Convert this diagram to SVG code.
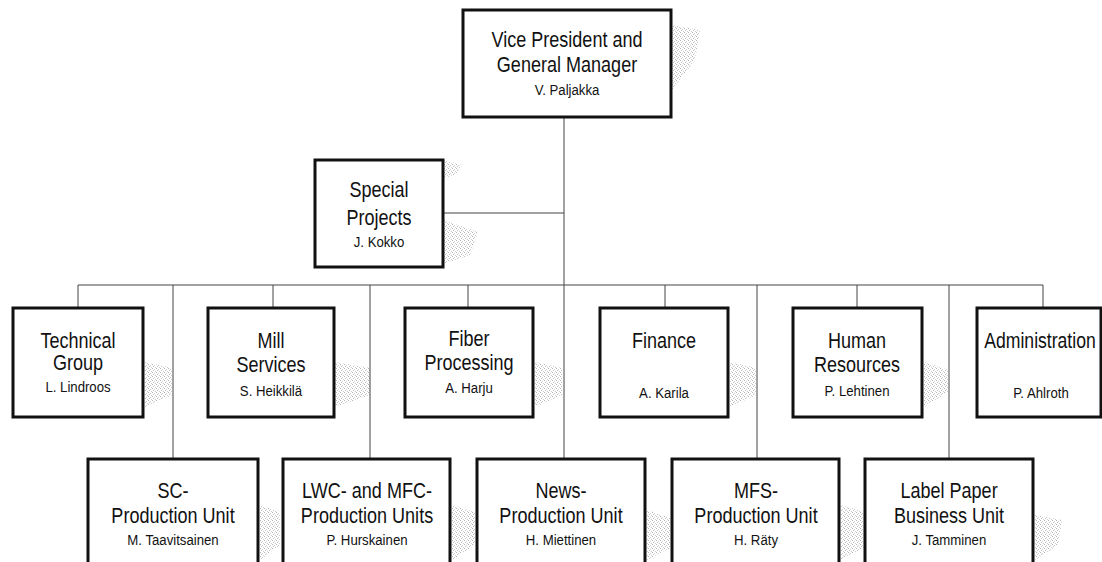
<svg xmlns="http://www.w3.org/2000/svg" width="1102" height="562" viewBox="0 0 1102 562">
<defs>
<pattern id="dither" width="4" height="4" patternUnits="userSpaceOnUse">
<rect x="0" y="0" width="1" height="1" fill="#999"/>
<rect x="2" y="1" width="1" height="1" fill="#bbb"/>
<rect x="1" y="2" width="1" height="1" fill="#aaa"/>
<rect x="3" y="3" width="1" height="1" fill="#bbb"/>
</pattern>
<style>
.box{fill:#fff;stroke:#111;stroke-width:3}
.t{font-family:"Liberation Sans",Arial,sans-serif;font-size:22px;fill:#111;text-anchor:middle}
.n{font-family:"Liberation Sans",Arial,sans-serif;font-size:15px;fill:#111;text-anchor:middle}
.c{stroke:#444;stroke-width:1;fill:none}
.sh{fill:url(#dither);opacity:0.75}
</style>
</defs>
<rect width="1102" height="562" fill="#fff"/>
<g id="shadows">
<polygon class="sh" points="672,25 700,30 695,60 672,90"/>
<polygon class="sh" points="443,220 478,232 470,255 443,264"/>
<polygon class="sh" points="443,160 462,165 455,175 443,178"/>
<polygon class="sh" points="145,362 172,368 172,395 145,407"/>
<polygon class="sh" points="335,362 370,368 370,395 335,407"/>
<polygon class="sh" points="535,362 562,368 562,395 535,407"/>
<polygon class="sh" points="730,362 756,368 756,395 730,407"/>
<polygon class="sh" points="924,362 948,370 948,392 924,407"/>
<polygon class="sh" points="260,505 280,512 280,545 260,560"/>
<polygon class="sh" points="452,505 475,512 475,545 452,560"/>
<polygon class="sh" points="647,510 670,518 670,548 647,560"/>
<polygon class="sh" points="841,505 864,512 864,548 841,560"/>
<polygon class="sh" points="1035,515 1062,520 1058,545 1035,560"/>
</g>
<g id="connectors">
<line class="c" x1="564" y1="118" x2="564" y2="459"/>
<line class="c" x1="443" y1="213" x2="564" y2="213"/>
<line class="c" x1="78" y1="285" x2="1043" y2="285"/>
<line class="c" x1="78" y1="285" x2="78" y2="308"/>
<line class="c" x1="273" y1="285" x2="273" y2="308"/>
<line class="c" x1="468" y1="285" x2="468" y2="308"/>
<line class="c" x1="665" y1="285" x2="665" y2="308"/>
<line class="c" x1="857" y1="285" x2="857" y2="308"/>
<line class="c" x1="1043" y1="285" x2="1043" y2="308"/>
<line class="c" x1="173" y1="285" x2="173" y2="459"/>
<line class="c" x1="370" y1="285" x2="370" y2="459"/>
<line class="c" x1="757" y1="285" x2="757" y2="459"/>
<line class="c" x1="949" y1="285" x2="949" y2="459"/>
</g>
<g id="vp">
<rect class="box" x="463" y="10" width="208" height="107"/>
<text class="t" transform="translate(567 47) scale(0.82 1)">Vice President and</text>
<text class="t" transform="translate(567 72) scale(0.82 1)">General Manager</text>
<text class="n" transform="translate(567 95) scale(0.88 1)">V. Paljakka</text>
</g>
<g id="special">
<rect class="box" x="315" y="160" width="128" height="107"/>
<text class="t" transform="translate(379 197) scale(0.82 1)">Special</text>
<text class="t" transform="translate(379 225) scale(0.82 1)">Projects</text>
<text class="n" transform="translate(379 247) scale(0.88 1)">J. Kokko</text>
</g>
<g id="technical">
<rect class="box" x="13" y="308" width="130" height="109"/>
<text class="t" transform="translate(78 348) scale(0.82 1)">Technical</text>
<text class="t" transform="translate(78 370) scale(0.82 1)">Group</text>
<text class="n" transform="translate(78 392) scale(0.88 1)">L. Lindroos</text>
</g>
<g id="mill">
<rect class="box" x="208" y="308" width="126" height="109"/>
<text class="t" transform="translate(271 348) scale(0.82 1)">Mill</text>
<text class="t" transform="translate(271 372) scale(0.82 1)">Services</text>
<text class="n" transform="translate(271 396) scale(0.88 1)">S. Heikkilä</text>
</g>
<g id="fiber">
<rect class="box" x="405" y="308" width="128" height="109"/>
<text class="t" transform="translate(469 346) scale(0.82 1)">Fiber</text>
<text class="t" transform="translate(469 370) scale(0.82 1)">Processing</text>
<text class="n" transform="translate(469 393) scale(0.88 1)">A. Harju</text>
</g>
<g id="finance">
<rect class="box" x="600" y="308" width="128" height="109"/>
<text class="t" transform="translate(664 348) scale(0.82 1)">Finance</text>
<text class="n" transform="translate(664 398) scale(0.88 1)">A. Karila</text>
</g>
<g id="hr">
<rect class="box" x="793" y="308" width="129" height="109"/>
<text class="t" transform="translate(857 348) scale(0.82 1)">Human</text>
<text class="t" transform="translate(857 372) scale(0.82 1)">Resources</text>
<text class="n" transform="translate(857 396) scale(0.88 1)">P. Lehtinen</text>
</g>
<g id="admin">
<rect class="box" x="977" y="308" width="124" height="109"/>
<text class="t" transform="translate(1040 348) scale(0.8 1)">Administration</text>
<text class="n" transform="translate(1041 398) scale(0.88 1)">P. Ahlroth</text>
</g>
<g id="sc">
<rect class="box" x="88" y="459" width="170" height="120"/>
<text class="t" transform="translate(173 498) scale(0.82 1)">SC-</text>
<text class="t" transform="translate(173 523) scale(0.82 1)">Production Unit</text>
<text class="n" transform="translate(173 545) scale(0.88 1)">M. Taavitsainen</text>
</g>
<g id="lwc">
<rect class="box" x="283" y="459" width="167" height="120"/>
<text class="t" transform="translate(367 498) scale(0.82 1)">LWC- and MFC-</text>
<text class="t" transform="translate(367 523) scale(0.82 1)">Production Units</text>
<text class="n" transform="translate(367 545) scale(0.88 1)">P. Hurskainen</text>
</g>
<g id="news">
<rect class="box" x="477" y="459" width="168" height="120"/>
<text class="t" transform="translate(561 498) scale(0.82 1)">News-</text>
<text class="t" transform="translate(561 523) scale(0.82 1)">Production Unit</text>
<text class="n" transform="translate(561 545) scale(0.88 1)">H. Miettinen</text>
</g>
<g id="mfs">
<rect class="box" x="672" y="459" width="167" height="120"/>
<text class="t" transform="translate(756 498) scale(0.82 1)">MFS-</text>
<text class="t" transform="translate(756 523) scale(0.82 1)">Production Unit</text>
<text class="n" transform="translate(756 545) scale(0.88 1)">H. Räty</text>
</g>
<g id="label">
<rect class="box" x="865" y="459" width="168" height="120"/>
<text class="t" transform="translate(949 498) scale(0.82 1)">Label Paper</text>
<text class="t" transform="translate(949 523) scale(0.82 1)">Business Unit</text>
<text class="n" transform="translate(949 545) scale(0.88 1)">J. Tamminen</text>
</g>
</svg>
